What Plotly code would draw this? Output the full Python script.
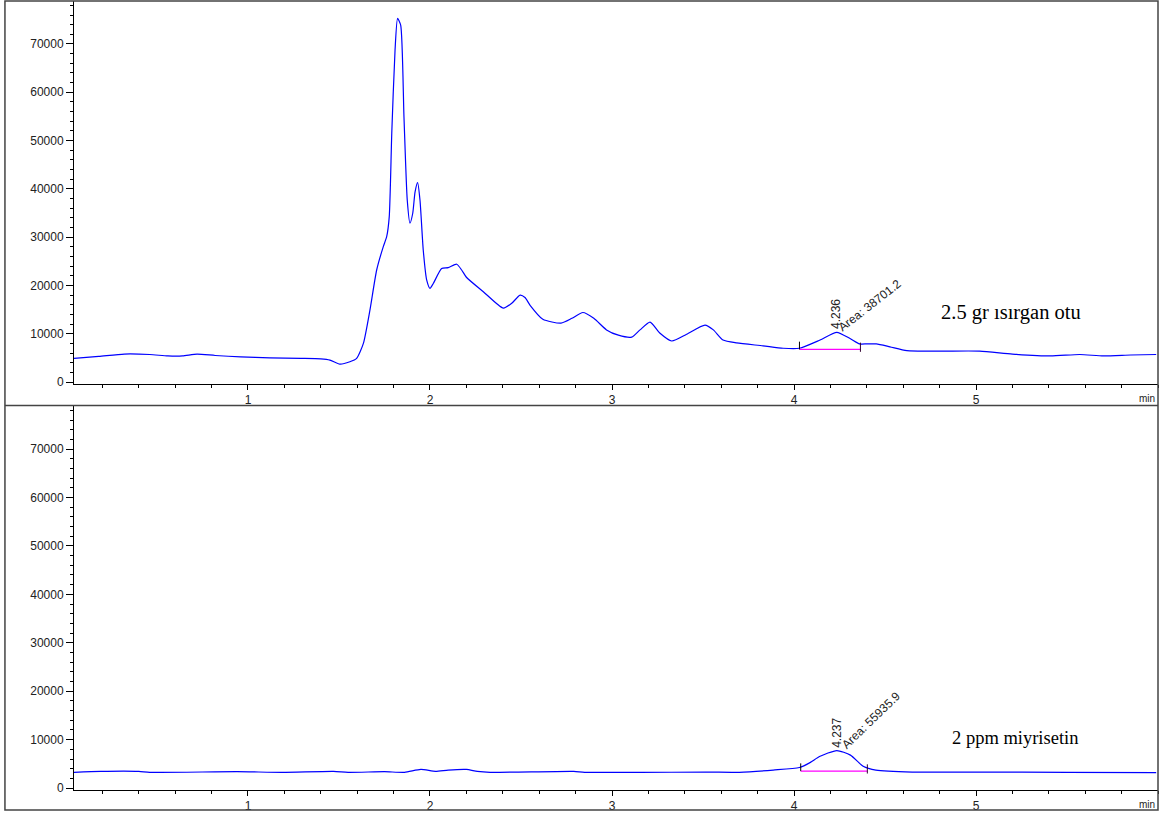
import plotly.graph_objects as go

# ---- data: top chromatogram (2.5 gr ısırgan otu) ----
t_top = [0.044, 0.18, 0.32, 0.46, 0.56, 0.64, 0.72, 0.82, 0.96, 1.12, 1.29, 1.40, 1.45, 1.505,
         1.56, 1.597, 1.634, 1.67, 1.707, 1.743, 1.762, 1.776, 1.79, 1.808, 1.822, 1.839, 1.857,
         1.875, 1.89, 1.905, 1.918, 1.932, 1.945, 1.963, 1.982, 2.0, 2.018, 2.064, 2.10, 2.147,
         2.174, 2.20, 2.293, 2.403, 2.449, 2.495, 2.522, 2.55, 2.62, 2.72, 2.78, 2.84, 2.90,
         2.97, 3.035, 3.108, 3.154, 3.209, 3.264, 3.328, 3.41, 3.511, 3.557, 3.61, 3.685, 3.83,
         3.94, 4.03, 4.143, 4.235, 4.308, 4.36, 4.40, 4.452, 4.527, 4.62, 4.80, 5.02, 5.20,
         5.41, 5.57, 5.70, 5.85, 5.99]
v_top = [4900, 5300, 5800, 5700, 5400, 5400, 5800, 5500, 5200, 5000, 4900, 4800, 4550, 3700,
         4200, 4900, 8000, 14900, 23200, 28000, 30100, 34200, 51500, 68750, 75300, 73900, 54900,
         37700, 32900, 34900, 39400, 41300, 37700, 27300, 21100, 19400, 20400, 23500, 23700, 24400,
         23200, 21700, 18700, 15300, 16300, 18000, 17500, 15900, 13000, 12200, 13200, 14400, 13200,
         10800, 9700, 9300, 10800, 12400, 10100, 8500, 9900, 11800, 10800, 8700, 8100, 7500,
         7000, 7000, 8700, 10300, 9000, 7900, 7900, 7900, 7300, 6500, 6400, 6400, 5800,
         5400, 5700, 5400, 5600, 5700]

# ---- data: bottom chromatogram (2 ppm miyrisetin) ----
t_bot = [0.044, 0.19, 0.40, 0.46, 0.94, 1.19, 1.47, 1.55, 1.75, 1.86, 1.95, 2.03, 2.10, 2.20,
         2.26, 2.33, 2.79, 2.85, 3.52, 3.70, 3.886, 4.03, 4.09, 4.14, 4.235, 4.31, 4.38, 4.45,
         4.65, 5.0, 5.5, 5.99]
v_bot = [3250, 3450, 3450, 3250, 3380, 3250, 3450, 3250, 3380, 3250, 3850, 3450, 3720, 3850,
         3450, 3250, 3450, 3250, 3300, 3250, 3720, 4250, 5300, 6500, 7750, 6800, 4500, 3700,
         3300, 3300, 3250, 3200]

# integration baselines (start/end time, level)
base_top_t = [4.03, 4.365]
base_top_v = [6760, 6760]
base_bot_t = [4.037, 4.403]
base_bot_v = [3500, 3500]

peak_labels = ["4.236", "4.237"]
area_labels = ["Area: 38701.2", "Area: 55935.9"]
sample_names = ["2.5 gr ısırgan otu", "2 ppm miyrisetin"]

x_ticks = [1, 2, 3, 4, 5]
y_ticks = [0, 10000, 20000, 30000, 40000, 50000, 60000, 70000]

BLUE = "#0000ff"
MAG = "#ff00ff"

fig = go.Figure()
fig.add_trace(go.Scatter(x=t_top, y=v_top, mode="lines", line=dict(color=BLUE, width=1.2, shape="spline", smoothing=0.6),
                         xaxis="x", yaxis="y", showlegend=False, hoverinfo="skip"))
fig.add_trace(go.Scatter(x=t_bot, y=v_bot, mode="lines", line=dict(color=BLUE, width=1.2, shape="spline", smoothing=0.6),
                         xaxis="x2", yaxis="y2", showlegend=False, hoverinfo="skip"))

# baselines
fig.add_trace(go.Scatter(x=base_top_t, y=base_top_v, mode="lines", line=dict(color=MAG, width=1.2),
                         xaxis="x", yaxis="y", showlegend=False, hoverinfo="skip"))
fig.add_trace(go.Scatter(x=base_bot_t, y=base_bot_v, mode="lines", line=dict(color=MAG, width=1.2),
                         xaxis="x2", yaxis="y2", showlegend=False, hoverinfo="skip"))
# baseline end markers
for bt, bv, xa, ya in [(base_top_t, base_top_v, "x", "y"), (base_bot_t, base_bot_v, "x2", "y2")]:
    fig.add_trace(go.Scatter(x=[bt[0], bt[0]], y=[bv[0], bv[0] + 1600], mode="lines",
                             line=dict(color="#000000", width=1), xaxis=xa, yaxis=ya,
                             showlegend=False, hoverinfo="skip"))
    fig.add_trace(go.Scatter(x=[bt[1], bt[1]], y=[bv[1] - 500, bv[1] + 1400], mode="lines",
                             line=dict(color="#300030", width=1), xaxis=xa, yaxis=ya,
                             showlegend=False, hoverinfo="skip"))

FONT = "Liberation Sans, Arial, Helvetica, sans-serif"

def xax(anchor):
    return dict(anchor=anchor, range=[0.044, 6.0], tickmode="array", tickvals=x_ticks,
                ticktext=[str(v) for v in x_ticks], ticks="outside", ticklen=5, tickwidth=1,
                tickcolor="#000", showline=True, linecolor="#000", linewidth=1, showgrid=False,
                zeroline=False, tickfont=dict(family=FONT, size=12, color="#222"),
                minor=dict(dtick=0.2, tick0=0, ticks="outside", ticklen=3, tickcolor="#000", showgrid=False))

def yax(domain, anchor):
    return dict(anchor=anchor, domain=domain, range=[-400, 78900], tickmode="array", tickvals=y_ticks,
                ticktext=[str(v) for v in y_ticks], ticks="outside", ticklen=7, tickwidth=1,
                tickcolor="#000", showline=True, linecolor="#000", linewidth=1, showgrid=False,
                zeroline=False, tickfont=dict(family=FONT, size=12, color="#222"),
                minor=dict(dtick=2000, tick0=0, ticks="outside", ticklen=3, tickcolor="#000", showgrid=False))

fig.update_layout(
    width=1168, height=816,
    margin=dict(l=74, r=10, t=1, b=26),
    paper_bgcolor="white", plot_bgcolor="white",
    xaxis=xax("y"), yaxis=yax([0.5146, 1.0], "x"),
    xaxis2=xax("y2"), yaxis2=yax([0.0, 0.4867], "x2"),
    showlegend=False,
)

ann_font = dict(family=FONT, size=12, color="#222")
annotations = [
    dict(x=4.231, y=14100, xref="x", yref="y", text=peak_labels[0], textangle=-90, showarrow=False,
         font=ann_font, xanchor="center", yanchor="middle"),
    dict(x=4.42, y=15900, xref="x", yref="y", text=area_labels[0], textangle=-38, showarrow=False,
         font=ann_font, xanchor="center", yanchor="middle"),
    dict(x=4.236, y=11400, xref="x2", yref="y2", text=peak_labels[1], textangle=-90, showarrow=False,
         font=ann_font, xanchor="center", yanchor="middle"),
    dict(x=4.425, y=14100, xref="x2", yref="y2", text=area_labels[1], textangle=-44, showarrow=False,
         font=ann_font, xanchor="center", yanchor="middle"),
    dict(x=5.19, y=14400, xref="x", yref="y", text=sample_names[0], showarrow=False,
         font=dict(family="Liberation Serif, Times New Roman, serif", size=20.5, color="#000"),
         xanchor="center", yanchor="middle"),
    dict(x=5.214, y=10300, xref="x2", yref="y2", text=sample_names[1], showarrow=False,
         font=dict(family="Liberation Serif, Times New Roman, serif", size=18.5, color="#000"),
         xanchor="center", yanchor="middle"),
    dict(x=0.999, y=0.4956, xref="paper", yref="paper", text="min", showarrow=False,
         font=dict(family=FONT, size=10, color="#222"), xanchor="right", yanchor="middle"),
    dict(x=0.999, y=-0.019, xref="paper", yref="paper", text="min", showarrow=False,
         font=dict(family=FONT, size=10, color="#222"), xanchor="right", yanchor="middle"),
]
fig.update_layout(annotations=annotations)

# outer frame and divider
shapes = [
    dict(type="rect", xref="paper", yref="paper", x0=-0.0637, x1=1.0, y0=-0.0253, y1=1.0,
         line=dict(color="#444", width=1.5)),
    dict(type="line", xref="paper", yref="paper", x0=-0.0637, x1=1.0, y0=0.4873, y1=0.4873,
         line=dict(color="#444", width=1.5)),
]
fig.update_layout(shapes=shapes)

fig.write_html("out.html", config={"displayModeBar": False},
               post_script="document.body.style.margin='0';document.body.style.overflow='hidden';")
